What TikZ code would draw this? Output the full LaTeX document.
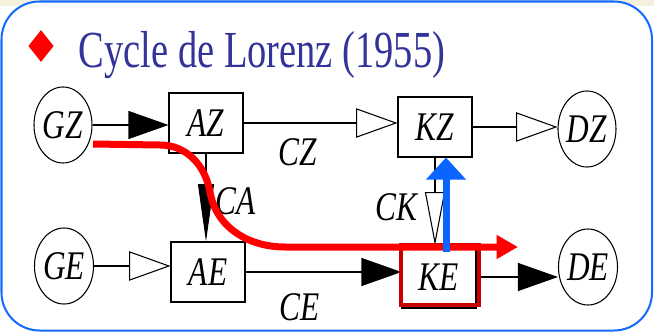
\documentclass[tikz,border=0pt]{standalone}
\usepackage{fontspec}
\newfontfamily\titlefont[FakeStretch=0.74]{Liberation Serif}
\newfontfamily\diagfont[FakeStretch=0.77]{Liberation Serif}
\usetikzlibrary{arrows.meta, positioning, shapes.geometric}
\definecolor{titleblue}{RGB}{51,51,153}
\definecolor{frameblue}{RGB}{20,105,255}
\definecolor{markred}{RGB}{200,0,0}
\definecolor{liftblue}{RGB}{10,100,255}
\definecolor{topbeige}{RGB}{245,240,220}

\begin{document}
\begin{tikzpicture}[
    x=0.75pt, y=-0.75pt,
    >=Stealth,
    box/.style={draw, line width=0.8pt, minimum width=55.5pt,
                minimum height=45pt, inner sep=0pt,
                font=\diagfont\fontsize{30.5}{32}\selectfont\itshape},
    src/.style={draw, ellipse, line width=0.8pt, minimum width=43.5pt,
                minimum height=57pt, inner sep=0pt,
                font=\diagfont\fontsize{30.5}{32}\selectfont\itshape},
    lbl/.style={font=\diagfont\fontsize{30.5}{32}\selectfont\itshape},
    link/.style={line width=0.8pt},
    fulltip/.style={-{Triangle[length=30pt,width=21pt]}},
    opentip/.style={-{Triangle[open,length=31pt,width=22pt,fill=white]}},
    keframe/.style={draw=markred, line width=3pt, minimum width=58.5pt,
                    minimum height=45pt, inner sep=0pt},
    flow/.style={red, line width=5.25pt, -{Triangle[length=16pt,width=17pt]}},
    lift/.style={liftblue, line width=5.25pt, -{Triangle[length=16.5pt,width=29pt]}}
  ]
  \useasboundingbox (0,0) rectangle (654,332);
  \fill[white] (0,0) rectangle (654,332);
  \fill[topbeige] (0,0) rectangle (654,6);
  \draw[draw=frameblue, fill=white, line width=1.5pt,
        rounded corners=28.5pt] (1.5,1.5) rectangle (652,330.5);

  \node[diamond, fill=red, minimum width=19pt, minimum height=24pt,
        inner sep=0pt] (bullet) at (41,46) {};
  \node[anchor=base west, text=titleblue,
        font=\titlefont\fontsize{39}{40}\selectfont] (title) at (74,67)
        {Cycle de Lorenz (1955)};

  \node[src] (GZ) at (63,125) {GZ};
  \node[box] (AZ) at (206,123) {AZ};
  \node[box] (KZ) at (435,127) {KZ};
  \node[src] (DZ) at (587,129) {DZ};
  \node[src] (GE) at (64,266) {GE};
  \node[box] (AE) at (208,272) {AE};
  \node[box, minimum height=46.5pt] (KE) at (439,277) {KE};
  \node[src] (DE) at (588,267) {DE};

  \draw[link, fulltip] (GZ.east) -- (GZ.east -| AZ.west);
  \draw[link, opentip] (AZ.east) -- (AZ.east -| KZ.west);
  \draw[link, opentip] (KZ.east) -- (KZ.east -| DZ.west);
  \draw[link, opentip] (GE.east) -- (GE.east -| AE.west);
  \draw[link, fulltip] (AE.east) -- (AE.east -| KE.west);
  \draw[link, fulltip] (KE.east) -- (KE.east -| DE.west);
  \draw[link, -{Triangle[length=43pt,width=12pt]}]
    (AZ.south) -- (AZ.south |- AE.north);
  \draw[link, -{Triangle[open,length=40pt,width=15pt,fill=white]}]
    (KZ.south) -- (KZ.south |- KE.north);

  \node[lbl] (CZ) at (298,152) {CZ};
  \node[lbl] (CE) at (300,307) {CE};
  \node[lbl] (CA) at (236,201) {CA};
  \node[lbl] (CK) at (396,207) {CK};

  \node[keframe] (KEmark) at (440,275) {};

  \coordinate (rs) at (93,144);
  \coordinate (re) at (518,247);
  \draw[flow] (rs) -- (160,145) to[out=0,in=100] (210,192)
    to[out=-80,in=180] (285,247) -- (re);

  \coordinate (bs) at (446,252);
  \draw[lift] (bs) -- (bs |- KZ.south);
\end{tikzpicture}
\end{document}
